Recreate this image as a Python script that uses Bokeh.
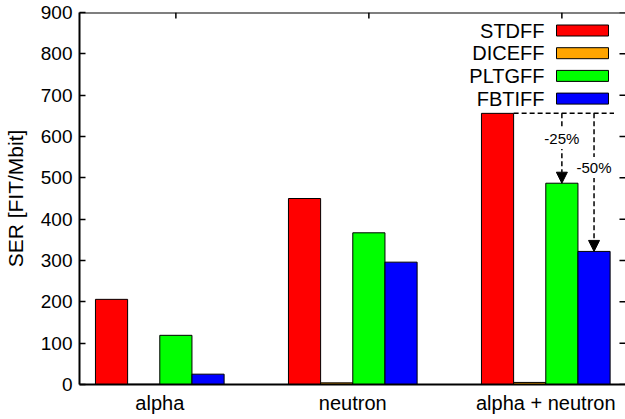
import math
from bokeh.plotting import figure
from bokeh.models import Range1d, FixedTicker, Arrow, NormalHead, ColumnDataSource, Span
from bokeh.core.properties import value
from bokeh.embed import file_html
from bokeh.resources import INLINE

# ---- data ----
categories = ["alpha", "neutron", "alpha + neutron"]
series_names = ["STDFF", "DICEFF", "PLTGFF", "FBTIFF"]
stdff = [206, 450, 656]
diceff = [0.5, 4, 5]
pltgff = [119, 367, 487]
fbtiff = [25, 296, 322]
series_colors = ["#ff0000", "#ffa500", "#00ff00", "#0000ff"]
y_ticks = [0, 100, 200, 300, 400, 500, 600, 700, 800, 900]
reduction_labels = ["-25%", "-50%"]
reduction_label_y = [595, 525]

FONT = value("Liberation Sans")

W, H = 625, 419
FL, FR, FT, FB = 79, 625, 12, 384   # frame edges in px
bw = 1.0 / 6.0                      # bar width (group spacing = 1)
X0 = -0.416
X1 = X0 + (FR - FL) / 193.0
Y0, Y1 = 0, 900

def px_x(px):
    return X0 + (px - FL) / (FR - FL) * (X1 - X0)

def px_y(py):
    return Y0 + (FB - py) / (FB - FT) * (Y1 - Y0)

p = figure(width=W, height=H, x_range=Range1d(X0, X1), y_range=Range1d(Y0, Y1),
           output_backend="svg", toolbar_location=None, title=None,
           min_border_left=FL, min_border_right=0, min_border_top=FT,
           min_border_bottom=H - FB)
p.outline_line_color = None
p.xgrid.visible = False
p.ygrid.visible = False
p.background_fill_color = "white"
p.border_fill_color = "white"

# bars
all_series = [stdff, diceff, pltgff, fbtiff]
for k, (name, vals, col) in enumerate(zip(series_names, all_series, series_colors)):
    xs = [g + (k - 1.5) * bw for g in range(len(categories))]
    src = ColumnDataSource(dict(x=xs, top=vals))
    p.vbar(x="x", top="top", bottom=0, width=bw, source=src,
           fill_color=col, line_color="black", line_width=1)

# x axis (bottom)
xa = p.xaxis[0]
xa.ticker = FixedTicker(ticks=list(range(len(categories))))
xa.major_label_overrides = {i: c for i, c in enumerate(categories)}
xa.major_tick_line_color = None
xa.major_tick_out = 0
xa.major_tick_in = 0
xa.minor_tick_line_color = None
xa.axis_line_width = 2
xa.major_label_standoff = 7
xa.major_label_text_font = "Liberation Sans"
xa.major_label_text_font_size = "20px"
xa.major_label_text_color = "black"

# y axis (left)
ya = p.yaxis[0]
ya.ticker = FixedTicker(ticks=y_ticks)
ya.minor_tick_line_color = None
ya.major_tick_in = 6
ya.major_tick_out = 0
ya.major_tick_line_width = 1.5
ya.axis_line_width = 2
ya.major_label_standoff = 7
ya.major_label_text_font = "Liberation Sans"
ya.major_label_text_font_size = "19px"
ya.major_label_text_color = "black"
ya.axis_label = "SER [FIT/Mbit]"
ya.axis_label_text_font = "Liberation Sans"
ya.axis_label_text_font_size = "21px"
ya.axis_label_text_font_style = "normal"
ya.axis_label_text_color = "black"
ya.axis_label_standoff = 11

# top border with mirrored ticks
p.add_layout(Span(location=Y1, dimension="width", line_color="black", line_width=2))
top_ticks = [g + 0.5 * bw for g in range(len(categories))]
p.ray(x=top_ticks, y=[Y1] * len(top_ticks), length=6, length_units="screen",
      angle=-math.pi / 2, line_color="black", line_width=1.5)
# right mirrored ticks
p.ray(x=[X1] * len(y_ticks), y=y_ticks, length=6, length_units="screen",
      angle=math.pi, line_color="black", line_width=1.5)

# reduction annotation
g = len(categories) - 1
ref = stdff[g]
p.segment(x0=[g - bw], y0=[ref], x1=[g + 2 * bw + 0.02], y1=[ref],
          line_color="black", line_width=1.5, line_dash="5 3")
for k, target in ((2, pltgff[g]), (3, fbtiff[g])):
    xc = g + (k - 1.5) * bw
    p.add_layout(Arrow(end=NormalHead(size=11, fill_color="black", line_color="black"),
                       x_start=xc, y_start=ref, x_end=xc, y_end=target,
                       line_color="black", line_width=1.5, line_dash="5 3"))
p.text(x=[g + 0.5 * bw, g + 1.5 * bw], y=reduction_label_y, text=reduction_labels,
       text_font=FONT, text_font_size="15px", text_color="black",
       text_align="center", text_baseline="middle",
       background_fill_color="white", padding=2, level="overlay")

# legend (labels left, swatches right)
leg_y = [px_y(30 + 22.7 * i) for i in range(len(series_names))]
p.text(x=[px_x(544)] * len(series_names), y=leg_y, text=series_names,
       text_font=FONT, text_font_size="20px", text_color="black",
       text_align="right", text_baseline="middle")
p.rect(x=[px_x(582)] * len(series_names), y=leg_y, width=52, height=11,
       width_units="screen", height_units="screen",
       fill_color=series_colors, line_color="black", line_width=1)

open("out.html", "w").write(file_html(p, INLINE))
